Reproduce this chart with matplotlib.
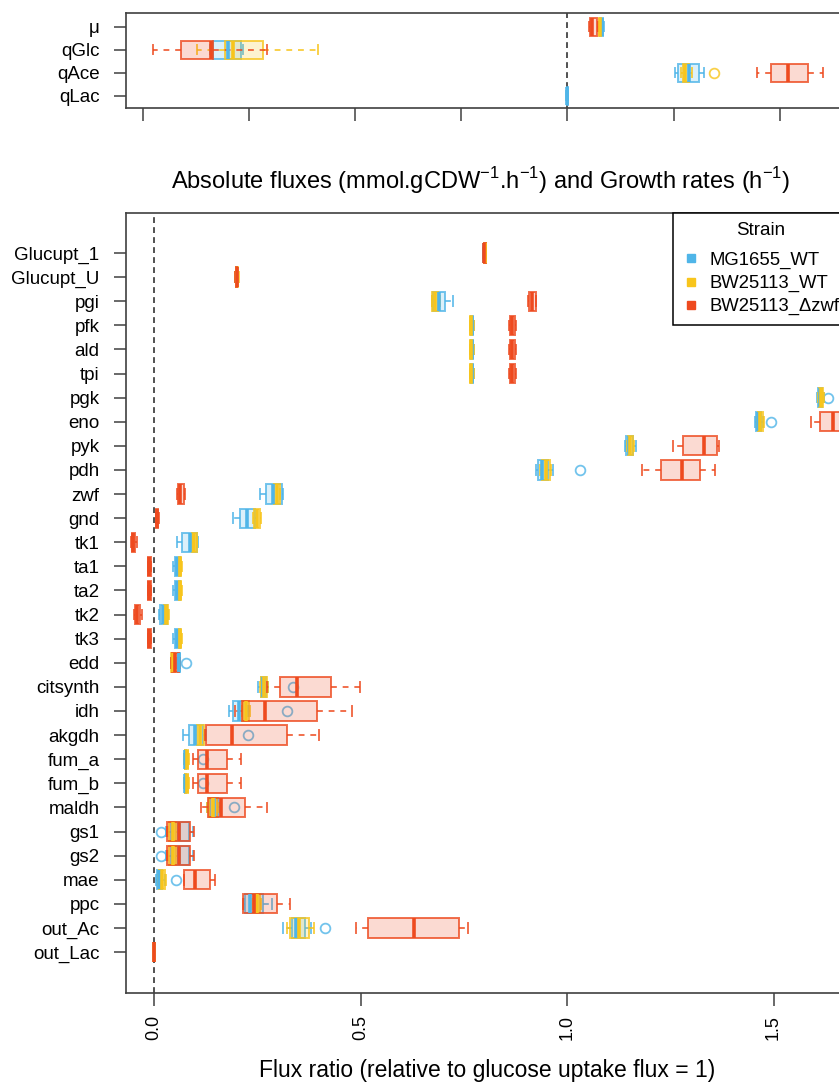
import matplotlib
matplotlib.use("Agg")
import matplotlib.pyplot as plt
from matplotlib.colors import to_rgba
from matplotlib.lines import Line2D

plt.rcParams['font.family'] = ['Liberation Sans', 'DejaVu Sans']
plt.rcParams['mathtext.fontset'] = 'custom'
plt.rcParams['mathtext.rm'] = 'Liberation Sans'

# ---------------- data ----------------
strains = ['MG1655_WT', 'BW25113_WT', 'BW25113_\u0394zwf']
colors = ['#4FB5E8', '#F8C51C', '#EE4A1F']

nan = float('nan')

# top panel: absolute fluxes and growth rate
top_names = ['\u03bc', 'qGlc', 'qAce', 'qLac']
# [whislo, q1, median, q3, whishi] per row
top_mg = [[0.60, 0.62, 0.65, 0.67, 0.69],
          [-6.72, -6.67, -6.39, -6.14, -6.10],
          [2.02, 2.09, 2.29, 2.48, 2.58],
          [-0.02, -0.01, 0.0, 0.01, 0.02]]
top_bw = [[0.57, 0.59, 0.62, 0.64, 0.66],
          [-6.98, -6.45, -6.30, -5.73, -4.69],
          [2.15, 2.18, 2.21, 2.30, 2.35],
          [nan, nan, nan, nan, nan]]
top_zwf = [[0.40, 0.42, 0.47, 0.55, 0.58],
           [-7.81, -7.28, -6.71, -6.67, -5.65],
           [3.57, 3.84, 4.16, 4.53, 4.82],
           [nan, nan, nan, nan, nan]]
top_fliers_mg = {}
top_fliers_bw = {'qAce': [2.76]}
top_fliers_zwf = {}

# bottom panel: flux ratios
names = ['Glucupt_1', 'Glucupt_U', 'pgi', 'pfk', 'ald', 'tpi', 'pgk', 'eno',
         'pyk', 'pdh', 'zwf', 'gnd', 'tk1', 'ta1', 'ta2', 'tk2', 'tk3', 'edd',
         'citsynth', 'idh', 'akgdh', 'fum_a', 'fum_b', 'maldh', 'gs1', 'gs2',
         'mae', 'ppc', 'out_Ac', 'out_Lac']

mg = [[0.796, 0.798, 0.800, 0.802, 0.804],
      [0.196, 0.198, 0.200, 0.202, 0.204],
      [0.672, 0.676, 0.690, 0.705, 0.723],
      [0.766, 0.767, 0.769, 0.772, 0.775],
      [0.766, 0.767, 0.769, 0.772, 0.775],
      [0.766, 0.767, 0.769, 0.772, 0.775],
      [1.606, 1.608, 1.612, 1.618, 1.622],
      [1.456, 1.458, 1.463, 1.470, 1.474],
      [1.140, 1.142, 1.150, 1.160, 1.166],
      [0.926, 0.930, 0.940, 0.955, 0.966],
      [0.257, 0.270, 0.288, 0.309, 0.312],
      [0.192, 0.208, 0.224, 0.245, 0.250],
      [0.055, 0.067, 0.087, 0.103, 0.106],
      [0.045, 0.050, 0.056, 0.064, 0.066],
      [0.045, 0.050, 0.056, 0.064, 0.066],
      [0.012, 0.015, 0.022, 0.031, 0.034],
      [0.045, 0.050, 0.056, 0.064, 0.066],
      [0.055, 0.057, 0.060, 0.062, 0.063],
      [0.253, 0.258, 0.263, 0.270, 0.275],
      [0.182, 0.191, 0.205, 0.222, 0.228],
      [0.071, 0.085, 0.100, 0.119, 0.125],
      [0.073, 0.074, 0.076, 0.078, 0.080],
      [0.073, 0.074, 0.076, 0.078, 0.080],
      [0.128, 0.135, 0.145, 0.155, 0.160],
      [0.030, 0.040, 0.060, 0.085, 0.095],
      [0.030, 0.040, 0.060, 0.085, 0.095],
      [0.005, 0.007, 0.012, 0.020, 0.026],
      [0.218, 0.220, 0.232, 0.265, 0.285],
      [0.313, 0.333, 0.345, 0.365, 0.380],
      [0.0, 0.0, 0.0, 0.0005, 0.001]]

bw = [[0.797, 0.799, 0.801, 0.803, 0.805],
      [0.197, 0.199, 0.201, 0.203, 0.205],
      [0.672, 0.674, 0.680, 0.688, 0.692],
      [0.765, 0.766, 0.768, 0.771, 0.774],
      [0.765, 0.766, 0.768, 0.771, 0.774],
      [0.765, 0.766, 0.768, 0.771, 0.774],
      [1.608, 1.610, 1.615, 1.620, 1.623],
      [1.460, 1.463, 1.468, 1.474, 1.478],
      [1.145, 1.147, 1.153, 1.160, 1.163],
      [0.935, 0.940, 0.948, 0.958, 0.962],
      [0.287, 0.290, 0.297, 0.304, 0.306],
      [0.240, 0.243, 0.250, 0.256, 0.259],
      [0.090, 0.092, 0.097, 0.103, 0.105],
      [0.058, 0.060, 0.063, 0.066, 0.068],
      [0.058, 0.060, 0.063, 0.066, 0.068],
      [0.022, 0.024, 0.030, 0.035, 0.037],
      [0.058, 0.060, 0.063, 0.066, 0.068],
      [0.040, 0.042, 0.046, 0.050, 0.052],
      [0.257, 0.260, 0.266, 0.273, 0.276],
      [0.212, 0.216, 0.222, 0.230, 0.233],
      [0.100, 0.104, 0.112, 0.120, 0.124],
      [0.073, 0.075, 0.079, 0.083, 0.085],
      [0.073, 0.075, 0.079, 0.083, 0.085],
      [0.128, 0.132, 0.142, 0.152, 0.156],
      [0.033, 0.036, 0.045, 0.054, 0.057],
      [0.033, 0.036, 0.045, 0.054, 0.057],
      [0.010, 0.013, 0.020, 0.027, 0.030],
      [0.238, 0.241, 0.250, 0.257, 0.260],
      [0.322, 0.329, 0.350, 0.375, 0.387],
      [0.0, 0.0, 0.0, 0.0005, 0.001]]

zwf = [[0.797, 0.798, 0.800, 0.803, 0.805],
       [0.196, 0.198, 0.200, 0.202, 0.204],
       [0.906, 0.909, 0.915, 0.924, 0.926],
       [0.860, 0.862, 0.867, 0.873, 0.876],
       [0.860, 0.862, 0.867, 0.873, 0.876],
       [0.860, 0.862, 0.867, 0.873, 0.876],
       [1.740, 1.750, 1.760, 1.770, 1.780],
       [1.592, 1.612, 1.643, 1.680, 1.700],
       [1.256, 1.282, 1.332, 1.362, 1.368],
       [1.181, 1.228, 1.278, 1.322, 1.358],
       [0.055, 0.057, 0.062, 0.072, 0.075],
       [0.005, 0.006, 0.008, 0.010, 0.011],
       [-0.056, -0.054, -0.050, -0.045, -0.042],
       [-0.015, -0.014, -0.011, -0.008, -0.007],
       [-0.015, -0.014, -0.011, -0.008, -0.007],
       [-0.048, -0.045, -0.040, -0.033, -0.030],
       [-0.015, -0.014, -0.011, -0.008, -0.007],
       [0.042, 0.043, 0.052, 0.061, 0.062],
       [0.273, 0.304, 0.346, 0.429, 0.499],
       [0.196, 0.212, 0.269, 0.394, 0.479],
       [0.123, 0.125, 0.188, 0.321, 0.400],
       [0.095, 0.107, 0.129, 0.177, 0.211],
       [0.095, 0.107, 0.129, 0.177, 0.211],
       [0.114, 0.131, 0.162, 0.220, 0.273],
       [0.031, 0.031, 0.061, 0.087, 0.098],
       [0.031, 0.031, 0.061, 0.087, 0.098],
       [0.072, 0.073, 0.099, 0.136, 0.148],
       [0.215, 0.216, 0.242, 0.298, 0.329],
       [0.489, 0.517, 0.630, 0.738, 0.761],
       [0.0, 0.0, 0.0, 0.0005, 0.001]]

fliers_mg = {'pgk': [1.633], 'eno': [1.493], 'pdh': [1.031], 'edd': [0.077],
             'citsynth': [0.337], 'idh': [0.321], 'akgdh': [0.227],
             'fum_a': [0.119], 'fum_b': [0.119], 'maldh': [0.194],
             'gs1': [0.016], 'gs2': [0.016], 'mae': [0.053], 'out_Ac': [0.414]}
fliers_bw = {}
fliers_zwf = {}


def make_stats(rows, labels, fliers):
    out = []
    for lab, r in zip(labels, rows):
        out.append(dict(whislo=r[0], q1=r[1], med=r[2], q3=r[3], whishi=r[4],
                        fliers=fliers.get(lab, [])))
    return out


def draw_boxes(ax, groups, labels):
    pos = list(range(1, len(labels) + 1))
    for (rows, fl), col in zip(groups, colors):
        edge = to_rgba(col, 0.8)
        ax.bxp(make_stats(rows, labels, fl), positions=pos, widths=0.8,
               orientation='horizontal', patch_artist=True, manage_ticks=False,
               capwidths=0.4,
               boxprops=dict(facecolor=to_rgba(col, 0.2), edgecolor=edge, linewidth=1.4),
               medianprops=dict(color=col, linewidth=2.6, solid_capstyle='butt'),
               whiskerprops=dict(color=edge, linewidth=1.4, linestyle=(0, (3, 3))),
               capprops=dict(color=edge, linewidth=1.4),
               flierprops=dict(marker='o', markerfacecolor='none',
                               markeredgecolor=edge, markersize=7, markeredgewidth=1.3))
    ax.axvline(0, color='#333333', linestyle=(0, (3.5, 2.5)), linewidth=1.2, zorder=0)
    ax.set_yticks(pos)
    ax.set_yticklabels(labels)


def style(ax):
    for s in ax.spines.values():
        s.set_color('#404040')
        s.set_linewidth(1.2)
    ax.tick_params(length=9, width=1.1, color='#404040', labelsize=13.5, pad=10)


W = 839.0
H = 1083.0
left = 126 / W
width = (853 - 126) / W

fig = plt.figure(figsize=(8.39, 10.83), dpi=100)

ax_top = fig.add_axes([left, 1 - 108 / H, width, 95 / H])
draw_boxes(ax_top, [(top_mg, top_fliers_mg), (top_bw, top_fliers_bw),
                    (top_zwf, top_fliers_zwf)], top_names)
ax_top.set_ylim(4.53, 0.4)
ax_top.set_xlim((126 - 567.3) / 53.1, (853 - 567.3) / 53.1)
ax_top.set_xticks([-8, -6, -4, -2, 0, 2, 4])
ax_top.set_xticklabels([])
style(ax_top)

ax = fig.add_axes([left, 1 - 993 / H, width, (993 - 213) / H])
draw_boxes(ax, [(mg, fliers_mg), (bw, fliers_bw), (zwf, fliers_zwf)], names)
ax.set_ylim(31.7, -0.66)
ax.set_xlim((126 - 154) / 413.0, (853 - 154) / 413.0)
ax.set_xticks([0.0, 0.5, 1.0, 1.5])
ax.set_xticklabels(['0.0', '0.5', '1.0', '1.5'], rotation=90)
style(ax)
ax.tick_params(axis='x', labelsize=13, pad=7)

handles = [Line2D([], [], marker='s', linestyle='none', color=c, markersize=6)
           for c in colors]
leg = ax.legend(handles, strains, title='Strain', loc='upper left',
                bbox_to_anchor=((673 - 126) / (853 - 126), 1.0), borderaxespad=0,
                fontsize=13.3, title_fontsize=13.5, fancybox=False,
                edgecolor='black', framealpha=1, handletextpad=0.5,
                handlelength=1.0, labelspacing=0.33, borderpad=0.5)
leg.get_frame().set_linewidth(1.1)
# a bit more room between the legend title and the entries
leg._legend_box.sep = 9

fig.text(481 / W, 1 - 181 / H,
         r'Absolute fluxes (mmol.gCDW$^{-1}$.h$^{-1}$) and Growth rates (h$^{-1}$)',
         ha='center', va='center', fontsize=17)
fig.text(487.5 / W, 1 - 1070 / H,
         'Flux ratio (relative to glucose uptake flux = 1)',
         ha='center', va='center', fontsize=16.5)

fig.savefig('out.png', dpi=100)
